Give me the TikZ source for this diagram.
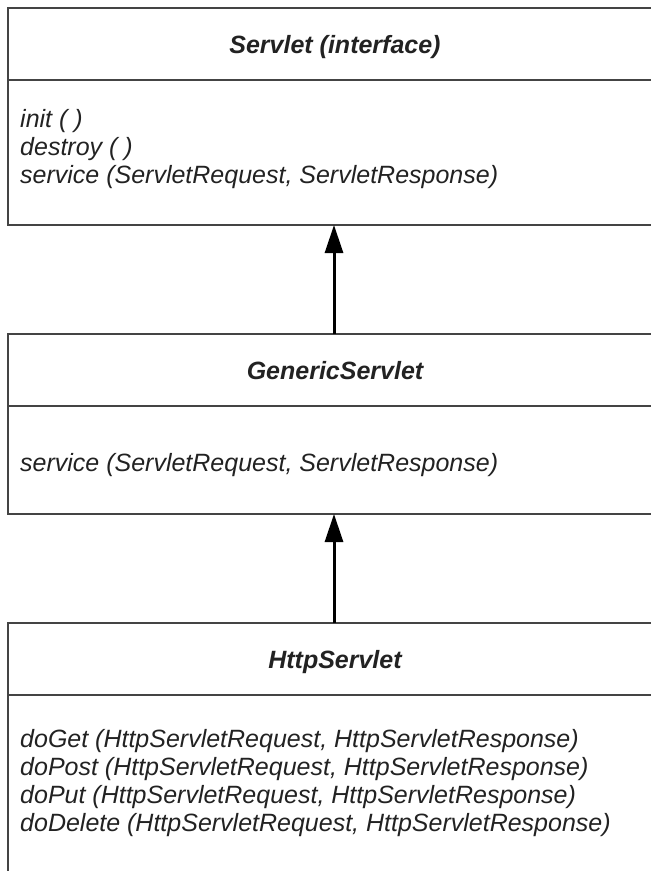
\documentclass[tikz,border=0pt]{standalone}
\usepackage{fontspec}
\setmainfont{Liberation Sans}
\usetikzlibrary{arrows.meta}
\definecolor{ink}{HTML}{222222}
\definecolor{edge}{HTML}{444444}
\tikzset{
  umlbox/.style={draw=edge, line width=1.3pt, rectangle, minimum width=652pt, inner sep=0pt, outer sep=0pt, anchor=north west},
  divider/.style={draw=edge, line width=1.3pt},
  title/.style={anchor=base, inner sep=0pt, text=ink, font=\fontsize{25}{28}\selectfont\bfseries\itshape},
  method/.style={anchor=base west, inner sep=0pt, text=ink, font=\fontsize{25}{28}\selectfont\itshape},
  inherit/.style={-{Triangle[length=28pt,width=18pt]}, line width=3pt, draw=black}
}
\begin{document}
\begin{tikzpicture}[x=1pt, y=-1pt]
\useasboundingbox (0,0) rectangle (651,871);
\clip (0,0) rectangle (651,871);
% boxes
\node[umlbox, minimum height=217pt] (servlet) at (8,8) {};
\node[umlbox, minimum height=180pt] (generic) at (8,334) {};
\node[umlbox, minimum height=300pt] (http) at (8,623) {};
% dividers
\draw[divider] (8,80) -- (660,80);
\draw[divider] (8,406) -- (660,406);
\draw[divider] (8,695) -- (660,695);
% titles
\node[title] (t1) at (335,53) {Servlet (interface)};
\node[title] (t2) at (335,379) {GenericServlet};
\node[title] (t3) at (335,668) {HttpServlet};
% methods
\node[method] (m1) at (20,127) {init ( )};
\node[method] (m2) at (20,155) {destroy ( )};
\node[method] (m3) at (20,183) {service (ServletRequest, ServletResponse)};
\node[method] (m4) at (20,471) {service (ServletRequest, ServletResponse)};
\node[method] (m5) at (20,747) {doGet (HttpServletRequest, HttpServletResponse)};
\node[method] (m6) at (20,775) {doPost (HttpServletRequest, HttpServletResponse)};
\node[method] (m7) at (20,803) {doPut (HttpServletRequest, HttpServletResponse)};
\node[method] (m8) at (20,831) {doDelete (HttpServletRequest, HttpServletResponse)};
% inheritance arrows
\draw[inherit] (generic.north) -- (servlet.south);
\draw[inherit] (http.north) -- (generic.south);
\end{tikzpicture}
\end{document}
